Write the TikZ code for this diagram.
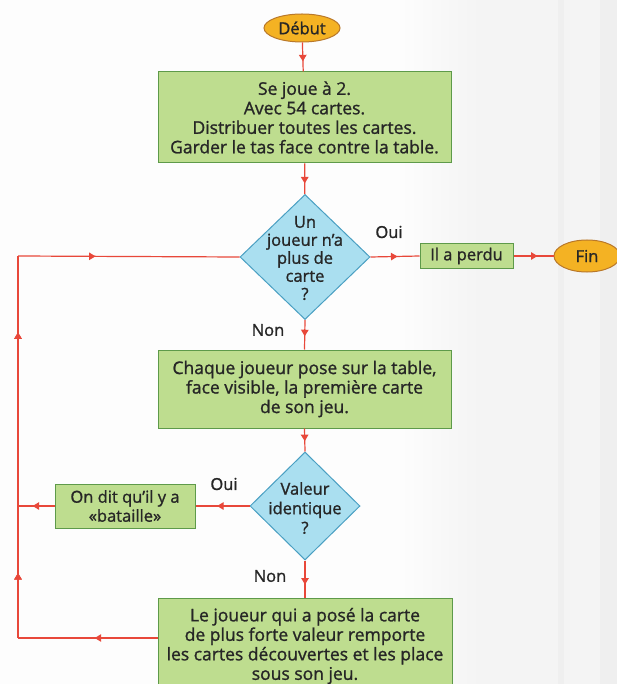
\documentclass[tikz,border=0pt]{standalone}
\usepackage{fontspec}
\setmainfont{Open Sans}[FakeBold=1.2]
\usetikzlibrary{shapes.geometric,arrows.meta,decorations.markings}
\definecolor{boxfill}{HTML}{BEDD8F}
\definecolor{boxline}{HTML}{5E9A4A}
\definecolor{diafill}{HTML}{AADFF0}
\definecolor{dialine}{HTML}{4A9FC2}
\definecolor{ovfill}{HTML}{F4B223}
\definecolor{ovline}{HTML}{B9782A}
\definecolor{flow}{HTML}{E8483A}
\definecolor{txt}{HTML}{262626}
\definecolor{bgA}{HTML}{FDFDFD}
\definecolor{bgB}{HTML}{F4F4F4}
\definecolor{bgC}{HTML}{EFEFEF}
\tikzset{
  every node/.style={text=txt, font=\fontsize{17.5}{19.5}\selectfont},
  stepbox/.style={draw=boxline, fill=boxfill, line width=1pt, rectangle, inner sep=0pt, align=center},
  dia/.style={draw=dialine, fill=diafill, line width=1pt, diamond, inner sep=0pt, aspect=1},
  oval/.style={draw=ovline, fill=ovfill, line width=1pt, ellipse, inner sep=0pt},
  lbl/.style={font=\fontsize{16.5}{18}\selectfont},
  flowline/.style={draw=flow, line width=1.2pt},
  midarr/.style={postaction={decorate}, decoration={markings, mark=at position #1 with {\arrow{Triangle[length=6.5pt,width=7.5pt]}}}},
}
\begin{document}
\begin{tikzpicture}[x=1pt,y=-1pt]
\fill[bgA] (0,0) rectangle (617,684);
\shade[left color=bgA, right color=bgB] (400,0) rectangle (480,684);
\fill[bgB] (480,0) rectangle (617,684);
\fill[bgC] (558,0) rectangle (564,684);
\fill[bgC] (600,0) rectangle (617,684);
\useasboundingbox (0,0) rectangle (617,684);

\node[oval, minimum width=76, minimum height=28, font=\fontsize{16.5}{18}\selectfont] (debut) at (302,28) {Début};
\node[stepbox, minimum width=293, minimum height=91] (b1) at (304.5,117.5) {Se joue à 2.\\Avec 54 cartes.\\Distribuer toutes les cartes.\\Garder le tas face contre la table.};
\node[dia, minimum width=130, minimum height=125] (d1) at (305,257) {};
\node[align=center, font=\fontsize{16.5}{18}\selectfont] (d1t) at (305,258) {Un\\joueur n'a\\plus de\\carte\\?};
\node[lbl] (oui1) at (389,232) {Oui};
\node[stepbox, minimum width=93, minimum height=25, font=\fontsize{16.5}{18}\selectfont] (perdu) at (466.5,256) {Il a perdu};
\node[oval, minimum width=66, minimum height=32, font=\fontsize{16.5}{18}\selectfont] (fin) at (587,256) {Fin};
\node[lbl] (non1) at (268,330) {Non};
\node[stepbox, minimum width=293, minimum height=78] (b2) at (304.5,389) {Chaque joueur pose sur la table,\\face visible, la première carte\\de son jeu.};
\node[dia, minimum width=110, minimum height=108] (d2) at (305,506) {};
\node[align=center, font=\fontsize{16.5}{19.5}\selectfont] (d2t) at (305,508) {Valeur\\identique\\?};
\node[lbl] (oui2) at (224,484) {Oui};
\node[stepbox, minimum width=140, minimum height=44, font=\fontsize{16.5}{19}\selectfont] (bat) at (125,506) {On dit qu'il y a\\«bataille»};
\node[lbl] (non2) at (270,576) {Non};
\node[stepbox, minimum width=294, minimum height=96, anchor=north] (b3) at (305,597.5) {Le joueur qui a posé la carte\\de plus forte valeur remporte\\les cartes découvertes et les place\\sous son jeu.};

\coordinate (cBat) at (18,506);
\coordinate (cBL) at (18,638);
\coordinate (cTL) at (18,256);

\draw[flowline, midarr=0.65] (debut) -- (b1);
\draw[flowline, midarr=0.65] (b1) -- (d1);
\draw[flowline, midarr=0.55] (d1.east) -- (perdu.west);
\draw[flowline, midarr=0.6] (perdu.east) -- (fin.west);
\draw[flowline, midarr=0.55] (d1.south) -- (b2.north);
\draw[flowline, midarr=0.55] (b2.south) -- (d2.north);
\draw[flowline, midarr=0.65] (d2.south) -- (b3.north);
\draw[flowline, midarr=0.6] (d2.west) -- (bat.east);
\draw[flowline, midarr=0.6] (bat.west) -- (cBat);
\draw[flowline, midarr=0.45] (b3.west |- cBL) -- (cBL);
\draw[flowline, midarr=0.17, midarr=0.8] (cBL) -- (cTL);
\draw[flowline, midarr=0.35] (cTL) -- (d1.west);
\end{tikzpicture}
\end{document}
